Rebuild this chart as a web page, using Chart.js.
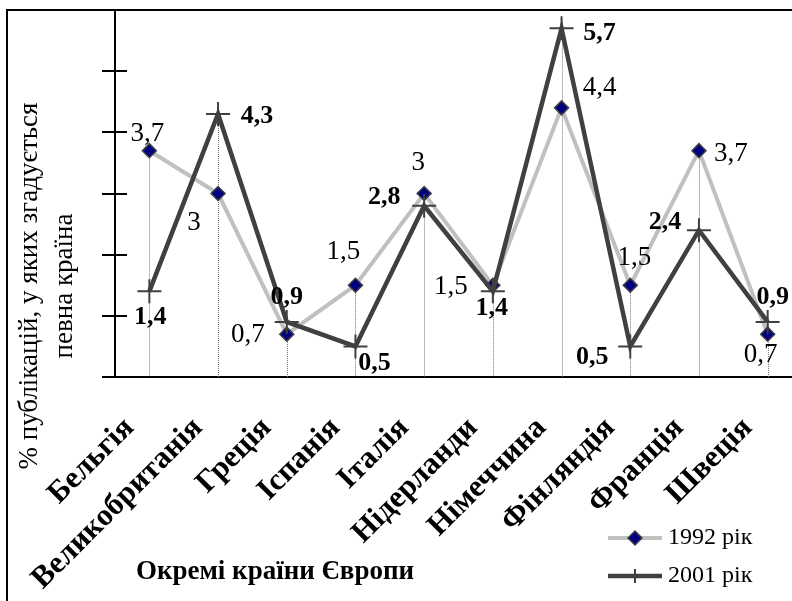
<!DOCTYPE html>
<html>
<head>
<meta charset="utf-8">
<script src="https://cdn.jsdelivr.net/npm/chart.js@4/dist/chart.umd.min.js"></script>
<style>
  html, body { margin: 0; padding: 0; background: #fff; overflow: hidden; }
  #wrap { width: 802px; height: 601px; }
</style>
</head>
<body>
<div id="wrap"><canvas id="c" width="802" height="601"></canvas></div>
<script>
// Share of publications mentioning each country, %
const countries = ['Бельгія', 'Великобританія', 'Греція', 'Іспанія', 'Італія',
                   'Нідерланди', 'Німеччина', 'Фінляндія', 'Франція', 'Швеція'];
const share1992 = [3.7, 3, 0.7, 1.5, 3, 1.5, 4.4, 1.5, 3.7, 0.7];
const share2001 = [1.4, 4.3, 0.9, 0.5, 2.8, 1.4, 5.7, 0.5, 2.4, 0.9];
const seriesNames = ['1992 рік', '2001 рік'];
const yTickValues = [0, 1, 2, 3, 4, 5, 6];
const yTitleLines = ['% публікацій, у яких згадується', 'певна країна'];
const xTitle = 'Окремі країни Європи';

// Where each value label sits relative to its point (px)
const labelShift1992 = [[-2, -17], [-24, 29], [-39, 1], [-12, -33], [-6, -31],
                        [-42, 2], [38, -20], [4, -27], [32, 3], [-7, 21]];
const labelShift2001 = [[1, 26], [39, 2], [0, -25], [19, 17], [-40, -8],
                        [-1, 17], [38, 5], [-38, 11], [-34, -8], [5, -25]];

const SERIF = "'Liberation Serif', 'Times New Roman', serif";
const fmt = v => String(v).replace('.', ',');

const framePlugin = {
  id: 'frame',
  afterDraw(chart) {
    const ctx = chart.ctx;
    ctx.save();
    ctx.strokeStyle = '#000';
    ctx.lineWidth = 2;
    ctx.beginPath();
    ctx.moveTo(7, 601);
    ctx.lineTo(7, 10);
    ctx.lineTo(chart.width, 10);
    ctx.stroke();
    ctx.restore();
  }
};

const dropLinePlugin = {
  id: 'dropLines',
  beforeDatasetsDraw(chart) {
    const ctx = chart.ctx;
    const a = chart.getDatasetMeta(0).data;
    const b = chart.getDatasetMeta(1).data;
    const bottom = chart.chartArea.bottom;
    ctx.save();
    ctx.strokeStyle = '#777';
    ctx.lineWidth = 1;
    ctx.setLineDash([1, 1]);
    for (let i = 0; i < a.length; i++) {
      const x = Math.round(a[i].x) + 0.5;
      const top = Math.min(a[i].y, b[i].y);
      ctx.beginPath();
      ctx.moveTo(x, top);
      ctx.lineTo(x, bottom);
      ctx.stroke();
    }
    ctx.restore();
  }
};

const crossTickPlugin = {
  id: 'crossTicks',
  afterDraw(chart) {
    const ctx = chart.ctx;
    const y = chart.scales.y;
    const x0 = chart.chartArea.left;
    ctx.save();
    ctx.strokeStyle = '#000';
    ctx.lineWidth = 2;
    y.ticks.forEach(t => {
      if (t.value >= y.max) return;
      const py = Math.round(y.getPixelForValue(t.value));
      ctx.beginPath();
      ctx.moveTo(x0 - 13, py);
      ctx.lineTo(t.value === 0 ? x0 : x0 + 12, py);
      ctx.stroke();
    });
    ctx.restore();
  }
};

const valueLabelPlugin = {
  id: 'valueLabels',
  afterDatasetsDraw(chart) {
    const ctx = chart.ctx;
    const shifts = [labelShift1992, labelShift2001];
    const fonts = ['normal 27px ', 'bold 26px '];
    ctx.save();
    ctx.fillStyle = '#000';
    ctx.textAlign = 'center';
    ctx.textBaseline = 'middle';
    chart.data.datasets.forEach((ds, di) => {
      const meta = chart.getDatasetMeta(di);
      ctx.font = fonts[di] + SERIF;
      ds.data.forEach((v, i) => {
        const p = meta.data[i];
        const s = shifts[di][i];
        ctx.fillText(fmt(v), p.x + s[0], p.y + s[1]);
      });
    });
    ctx.restore();
  }
};

const annotationPlugin = {
  id: 'titlesAndLegend',
  afterDraw(chart) {
    const ctx = chart.ctx;
    ctx.save();
    ctx.fillStyle = '#000';
    // y axis title, two rotated lines
    ctx.font = 'normal 27px ' + SERIF;
    ctx.textAlign = 'center';
    ctx.textBaseline = 'middle';
    ctx.save();
    ctx.translate(30, 286);
    ctx.rotate(-Math.PI / 2);
    ctx.fillText(yTitleLines[0], 0, 0);
    ctx.fillText(yTitleLines[1], 0, 35);
    ctx.restore();
    // x axis title
    ctx.font = 'bold 27px ' + SERIF;
    ctx.fillText(xTitle, 275, 572);
    // legend
    ctx.font = 'normal 24px ' + SERIF;
    ctx.textAlign = 'left';
    const rows = [538, 576];
    chart.data.datasets.forEach((ds, di) => {
      const y = rows[di];
      ctx.strokeStyle = ds.borderColor;
      ctx.lineWidth = ds.borderWidth;
      ctx.beginPath();
      ctx.moveTo(608, y);
      ctx.lineTo(662, y);
      ctx.stroke();
      ctx.fillStyle = ds.pointBackgroundColor || ds.borderColor;
      ctx.strokeStyle = ds.pointBorderColor;
      ctx.lineWidth = ds.pointBorderWidth;
      Chart.helpers.drawPoint(ctx, {
        pointStyle: ds.pointStyle,
        radius: di === 0 ? ds.pointRadius : 7,
        borderWidth: ds.pointBorderWidth,
        rotation: 0
      }, 635, y);
      ctx.fillStyle = '#000';
      ctx.fillText(ds.label, 668, y);
    });
    ctx.restore();
  }
};

function build() {
  new Chart(document.getElementById('c'), {
    type: 'line',
    data: {
      labels: countries,
      datasets: [
        {
          label: seriesNames[0],
          data: share1992,
          borderColor: '#c0c0c0',
          borderWidth: 4,
          pointStyle: 'rectRot',
          pointRadius: 7,
          pointBackgroundColor: '#000080',
          pointBorderColor: '#404040',
          pointBorderWidth: 1.5,
          tension: 0,
          order: 1
        },
        {
          label: seriesNames[1],
          data: share2001,
          borderColor: '#404040',
          borderWidth: 4.5,
          pointStyle: 'cross',
          pointRadius: 12,
          pointBorderColor: '#404040',
          pointBorderWidth: 2,
          tension: 0,
          order: 0
        }
      ]
    },
    options: {
      responsive: false,
      animation: false,
      devicePixelRatio: 1,
      layout: { autoPadding: false, padding: { top: 10, left: 0, right: 0, bottom: 0 } },
      plugins: { legend: { display: false }, tooltip: { enabled: false } },
      scales: {
        x: {
          offset: true,
          grid: { display: false, drawTicks: false },
          border: { display: true, color: '#000', width: 2 },
          ticks: {
            autoSkip: false,
            minRotation: 45,
            maxRotation: 45,
            padding: 33,
            labelOffset: -20,
            color: '#000',
            font: { family: SERIF, size: 31, weight: 'bold' }
          },
          afterFit(s) { s.height = 224; s.paddingRight = 0; }
        },
        y: {
          min: 0,
          max: 6,
          afterBuildTicks(s) { s.ticks = yTickValues.map(v => ({ value: v })); },
          ticks: { display: false },
          grid: { display: false },
          border: { display: true, color: '#000', width: 2 },
          afterFit(s) { s.width = 115; }
        }
      }
    },
    plugins: [framePlugin, dropLinePlugin, crossTickPlugin, valueLabelPlugin, annotationPlugin]
  });
}

Promise.all([
  document.fonts.load("27px 'Liberation Serif'"),
  document.fonts.load("bold 27px 'Liberation Serif'")
]).then(build, build);
</script>
</body>
</html>
